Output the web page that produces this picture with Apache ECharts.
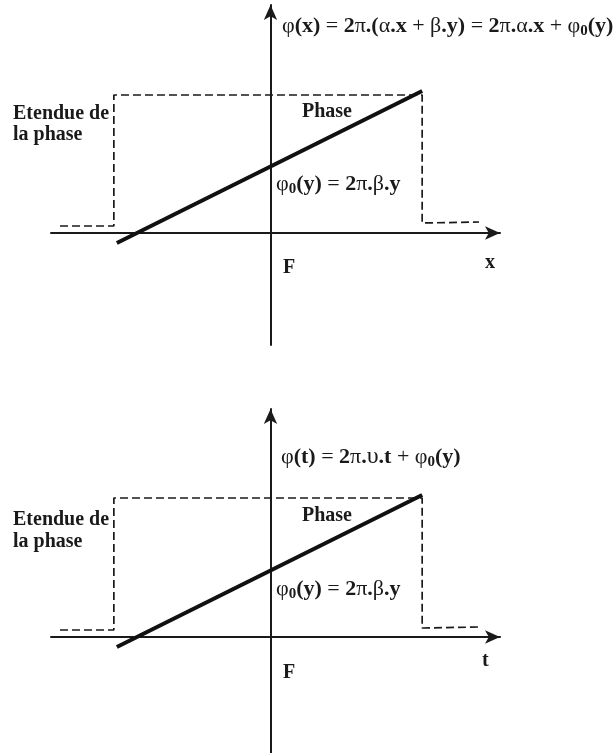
<!DOCTYPE html>
<html>
<head>
<meta charset="utf-8">
<script src="https://cdn.jsdelivr.net/npm/echarts@6/dist/echarts.min.js"></script>
<style>
  html, body { margin: 0; padding: 0; background: #fff; }
  #chart { width: 613px; height: 753px; }
</style>
</head>
<body>
<div id="chart"></div>
<script>
// phase extent (dashed step) and phase ramp, in axis units, origin = F
const extentTop = [[-21.1, 0.7], [-15.7, 0.7], [-15.7, 13.8], [15.2, 13.8], [15.2, 1.0], [20.9, 1.1]]
const rampTop = [[-15.4, -1.0], [15.2, 14.2]]
const extentBottom = [[-21.1, 0.7], [-15.7, 0.7], [-15.7, 13.9], [15.2, 13.9], [15.2, 0.9], [20.9, 1.0]]
const rampBottom = [[-15.4, -1.0], [15.2, 14.2]]

const axisNames = ["x", "t"]
const formulaTop = "{g|φ}{b|(x)}{n| = }{b|2}{g|π}{b|.(}{g|α}{b|.x}{n| + }{g|β}{b|.y)}{n| = }{b|2}{g|π}{b|.}{g|α}{b|.x}{n| + }{g|φ}{s|0}{b|(y)}"
const formulaBottom = "{g|φ}{b|(t)}{n| = }{b|2}{g|π}{b|.}{u|υ}{b|.t}{n| + }{g|φ}{s|0}{b|(y)}"
const phi0 = "{g|φ}{s|0}{b|(y)}{n| = }{b|2}{g|π}{b|.}{g|β}{b|.y}"

const FONT = "'Liberation Serif', 'Times New Roman', serif"
const ink = "#1a1a1a"

const rich = {
    b: {fontFamily: FONT, fontSize: 22, fontWeight: "bold", lineHeight: 26},
    g: {fontFamily: FONT, fontSize: 22, fontWeight: "normal", lineHeight: 26},
    u: {fontFamily: FONT, fontSize: 24, fontWeight: "normal", lineHeight: 26},
    n: {fontFamily: FONT, fontSize: 22, fontWeight: "normal", lineHeight: 26},
    s: {fontFamily: FONT, fontSize: 15, fontWeight: "bold", lineHeight: 15, verticalAlign: "bottom"},
}

function xAxisOf(i) {
    return {
        type: "value", gridIndex: i, min: -22, max: 23,
        axisLine: {onZero: true, symbol: ["none", "arrow"], symbolSize: [10, 15], lineStyle: {color: ink, width: 2}},
        axisTick: {show: false}, axisLabel: {show: false}, splitLine: {show: false},
    }
}

function yAxisOf(i, min) {
    return {
        type: "value", gridIndex: i, min: min, max: 22.8,
        axisLine: {onZero: true, symbol: ["none", "arrow"], symbolSize: [10, 15], lineStyle: {color: ink, width: 2}},
        axisTick: {show: false}, axisLabel: {show: false}, splitLine: {show: false},
    }
}

function dashed(i, data) {
    return {
        type: "line", xAxisIndex: i, yAxisIndex: i, data: data, showSymbol: false, silent: true,
        lineStyle: {color: ink, width: 1.7, type: [8, 4]},
    }
}

function solid(i, data) {
    return {
        type: "line", xAxisIndex: i, yAxisIndex: i, data: data, showSymbol: false, silent: true,
        lineStyle: {color: "#111", width: 4, cap: "butt"},
    }
}

function txt(x, y, text, extra) {
    return {
        type: "text", x: x, y: y, z: 10,
        style: Object.assign({
            text: text, fill: ink, font: "bold 20px " + FONT,
            textVerticalAlign: "middle", rich: rich,
        }, extra || {}),
    }
}

const chart = echarts.init(document.getElementById("chart"))
chart.setOption({
    backgroundColor: "#fff",
    animation: false,
    grid: [
        {left: 51, right: 113, top: 5, height: 340},
        {left: 51, right: 113, top: 409, height: 344},
    ],
    xAxis: [xAxisOf(0), xAxisOf(1)],
    yAxis: [yAxisOf(0, -11.2), yAxisOf(1, -11.6)],
    series: [
        dashed(0, extentTop), solid(0, rampTop),
        dashed(1, extentBottom), solid(1, rampBottom),
    ],
    graphic: [
        txt(282, 26, formulaTop),
        txt(13, 114, "Etendue de"),
        txt(13, 135, "la phase"),
        txt(302, 112, "Phase"),
        txt(276, 184, phi0),
        txt(283, 268, "F"),
        txt(485, 263, axisNames[0]),

        txt(281, 457, formulaBottom),
        txt(13, 520, "Etendue de"),
        txt(13, 542, "la phase"),
        txt(302, 516, "Phase"),
        txt(276, 589, phi0),
        txt(283, 673, "F"),
        txt(482, 661, axisNames[1]),
    ],
})
</script>
</body>
</html>
